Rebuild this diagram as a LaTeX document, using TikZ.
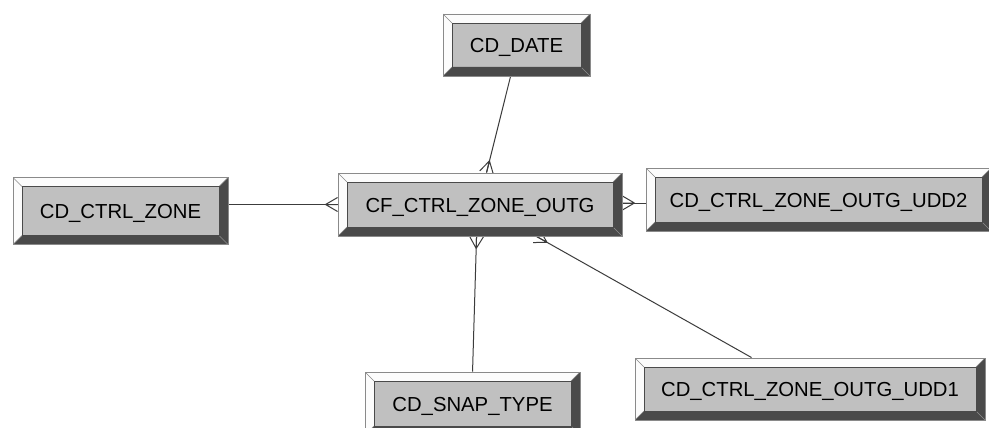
\documentclass[tikz,border=0pt]{standalone}
\usepackage{fontspec}
\setmainfont{Liberation Sans}
\usetikzlibrary{calc}
\definecolor{face}{HTML}{C0C0C0}
\definecolor{darkbev}{HTML}{4A4A4A}
\definecolor{lightbev}{HTML}{FCFCFC}
\definecolor{rim}{HTML}{8A8A8A}
\definecolor{wire}{HTML}{3C3C3C}
\pgfdeclarelayer{bg}
\pgfdeclarelayer{wires}
\pgfsetlayers{bg,wires,main}
\tikzset{
  entity/.style={draw=rim, line width=0.9pt, fill=face, inner sep=0pt,
    text height=15pt, text depth=0pt,
    font=\fontsize{20.3}{24}\selectfont,
    path picture={
      \coordinate (nw) at (path picture bounding box.north west);
      \coordinate (ne) at (path picture bounding box.north east);
      \coordinate (sw) at (path picture bounding box.south west);
      \coordinate (se) at (path picture bounding box.south east);
      \fill[lightbev] (nw) -- (ne) -- ($(ne)+(-9,9)$) -- ($(nw)+(9,9)$) -- cycle;
      \fill[lightbev] (nw) -- ($(nw)+(9,9)$) -- ($(sw)+(9,-9)$) -- (sw) -- cycle;
      \fill[darkbev] (sw) -- (se) -- ($(se)+(-9,-9)$) -- ($(sw)+(9,-9)$) -- cycle;
      \fill[darkbev] (se) -- (ne) -- ($(ne)+(-9,9)$) -- ($(se)+(-9,-9)$) -- cycle;
      \draw[rim, line width=0.5pt] (nw) -- ($(nw)+(9,9)$) (sw) -- ($(sw)+(9,-9)$)
                                   (ne) -- ($(ne)+(-9,9)$) (se) -- ($(se)+(-9,-9)$);
      \draw[darkbev, line width=0.8pt] ($(nw)+(9,9)$) rectangle ($(se)+(-9,-9)$);
    }},
  wireline/.style={draw=wire, line width=1pt},
}
% crow's foot: #1 = end on entity, #2 = other end
\newcommand\crowfoot[2]{%
  \draw[wireline] ($(#1)!12pt!(#2)$) -- (#1)
                  ($(#1)!12pt!(#2)$) -- ($(#1)!7pt!90:(#2)$)
                  ($(#1)!12pt!(#2)$) -- ($(#1)!7pt!-90:(#2)$);}
\begin{document}
\begin{tikzpicture}[x=1pt,y=-1pt]
\useasboundingbox (0,0) rectangle (989,428);
\begin{pgfonlayer}{bg}
  \fill[white] (0,0) rectangle (989,428);
\end{pgfonlayer}
\clip (0,0) rectangle (989,428);

\node[entity, minimum width=147pt, minimum height=62pt] (date) at (516.5,45) {CD\_DATE};
\node[entity, minimum width=215pt, minimum height=67pt] (zone) at (120.5,211) {CD\_CTRL\_ZONE};
\node[entity, minimum width=284pt, minimum height=63pt] (cf) at (480,204.5) {CF\_CTRL\_ZONE\_OUTG};
\node[entity, minimum width=345pt, minimum height=63pt] (udd2) at (818.5,199.5) {CD\_CTRL\_ZONE\_OUTG\_UDD2};
\node[entity, minimum width=215pt, minimum height=63pt] (snap) at (472.5,403.5) {CD\_SNAP\_TYPE};
\node[entity, minimum width=350pt, minimum height=62pt] (udd1) at (810,389) {CD\_CTRL\_ZONE\_OUTG\_UDD1};

\begin{pgfonlayer}{wires}
  % date -> cf
  \coordinate (d1) at ($(date.south west)+(68,0)$);
  \coordinate (c1) at ($(cf.north west)+(149,0)$);
  \draw[wireline] (d1) -- (c1);
  \crowfoot{c1}{d1}
  % zone -> cf
  \coordinate (z2) at (zone.east |- cf.west);
  \coordinate (c2) at (cf.west);
  \draw[wireline] (z2) -- (c2);
  \crowfoot{c2}{z2}
  % cf -> udd2
  \coordinate (c3) at ($(cf.east)+(0,-1.5)$);
  \coordinate (u3) at (udd2.west |- c3);
  \draw[wireline] (c3) -- (u3);
  \crowfoot{c3}{u3}
  % cf -> snap
  \coordinate (c4) at ($(cf.south west)+(139,0)$);
  \coordinate (s4) at ($(snap.north west)+(108,0)$);
  \draw[wireline] (c4) -- (s4);
  \crowfoot{c4}{s4}
  % cf -> udd1
  \coordinate (c5) at ($(cf.south west)+(199,0)$);
  \coordinate (u5) at ($(udd1.north west)+(117,0)$);
  \draw[wireline] (c5) -- (u5);
  \crowfoot{c5}{u5}
\end{pgfonlayer}
\end{tikzpicture}
\end{document}
